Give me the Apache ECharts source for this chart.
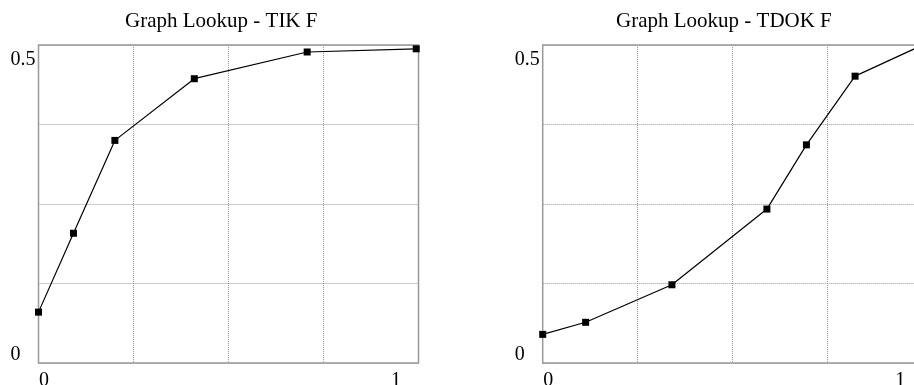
<!DOCTYPE html>
<html>
<head>
<meta charset="utf-8">
<script src="https://cdn.jsdelivr.net/npm/echarts@6/dist/echarts.min.js"></script>
<style>
  html, body { margin: 0; padding: 0; background: #fff; }
  #chart { width: 914px; height: 385px; }
</style>
</head>
<body>
<div id="chart"></div>
<script>
// ---- Data ----
const titles = ['Graph Lookup - TIK F', 'Graph Lookup - TDOK F'];
const tikX = [0, 0.092, 0.201, 0.410, 0.707, 0.994];
const tikY = [0.080, 0.204, 0.350, 0.447, 0.489, 0.494];
const tdokX = [0, 0.113, 0.340, 0.590, 0.694, 0.822, 1.0];
const tdokY = [0.045, 0.064, 0.123, 0.242, 0.343, 0.451, 0.500];
const xTickLabels = { 0: '0', 1: '1' };
const yTickLabels = { 0: '0', 0.5: '0.5' };

const FONT = 'Liberation Serif';
const chart = echarts.init(document.getElementById('chart'), null, { renderer: 'canvas' });

function pairs(xs, ys) { return xs.map((x, i) => [x, ys[i]]); }

const gridLefts = [38.5, 542.7];
const grids = gridLefts.map(l => ({
  left: l, top: 45, width: 380, height: 318,
  show: true, borderColor: '#999', borderWidth: 1.5, backgroundColor: 'transparent',
  containLabel: false, outerBoundsMode: 'none'
}));

const splitLine = { show: true, lineStyle: { color: '#999', width: 1, type: [1, 1] } };

const xAxes = gridLefts.map((_, i) => ({
  type: 'value', gridIndex: i, min: 0, max: 1, interval: 0.25,
  axisLine: { show: false }, axisTick: { show: false },
  splitLine,
  axisLabel: {
    margin: 8, fontFamily: FONT, fontSize: 20, color: '#000',
    formatter: v => v === 0 ? '{l|' + xTickLabels[0] + '}' : (v === 1 ? '{r|' + xTickLabels[1] + '}' : ''),
    rich: {
      l: { fontFamily: FONT, fontSize: 20, color: '#000', padding: [0, 0, 0, 11] },
      r: { fontFamily: FONT, fontSize: 20, color: '#000', padding: [0, 45, 0, 0] }
    }
  }
}));

const yAxes = gridLefts.map((_, i) => ({
  type: 'value', gridIndex: i, min: 0, max: 0.5, interval: 0.125,
  axisLine: { show: false }, axisTick: { show: false },
  splitLine,
  axisLabel: {
    margin: 28, align: 'left', fontFamily: FONT, fontSize: 20, color: '#000',
    formatter: v => v === 0 ? '{b|' + yTickLabels[0] + '}' : (v === 0.5 ? '{t|' + yTickLabels[0.5] + '}' : ''),
    rich: {
      t: { fontFamily: FONT, fontSize: 20, color: '#000', padding: [30, 0, 0, 0] },
      b: { fontFamily: FONT, fontSize: 20, color: '#000', padding: [0, 0, 17, 0] }
    }
  }
}));

const seriesData = [pairs(tikX, tikY), pairs(tdokX, tdokY)];

chart.setOption({
  animation: false,
  backgroundColor: '#fff',
  title: [
    { text: titles[0], left: 120, top: 6, textStyle: { fontFamily: FONT, fontSize: 21, fontWeight: 'normal', color: '#000' } },
    { text: titles[1], left: 611, top: 6, textStyle: { fontFamily: FONT, fontSize: 21, fontWeight: 'normal', color: '#000' } }
  ],
  grid: grids,
  xAxis: xAxes,
  yAxis: yAxes,
  series: seriesData.map((d, i) => ({
    type: 'line', xAxisIndex: i, yAxisIndex: i, data: d,
    symbol: 'rect', symbolSize: 7, showSymbol: true,
    lineStyle: { color: '#000', width: 1.2 },
    itemStyle: { color: '#000' },
    clip: true
  }))
});
</script>
</body>
</html>
